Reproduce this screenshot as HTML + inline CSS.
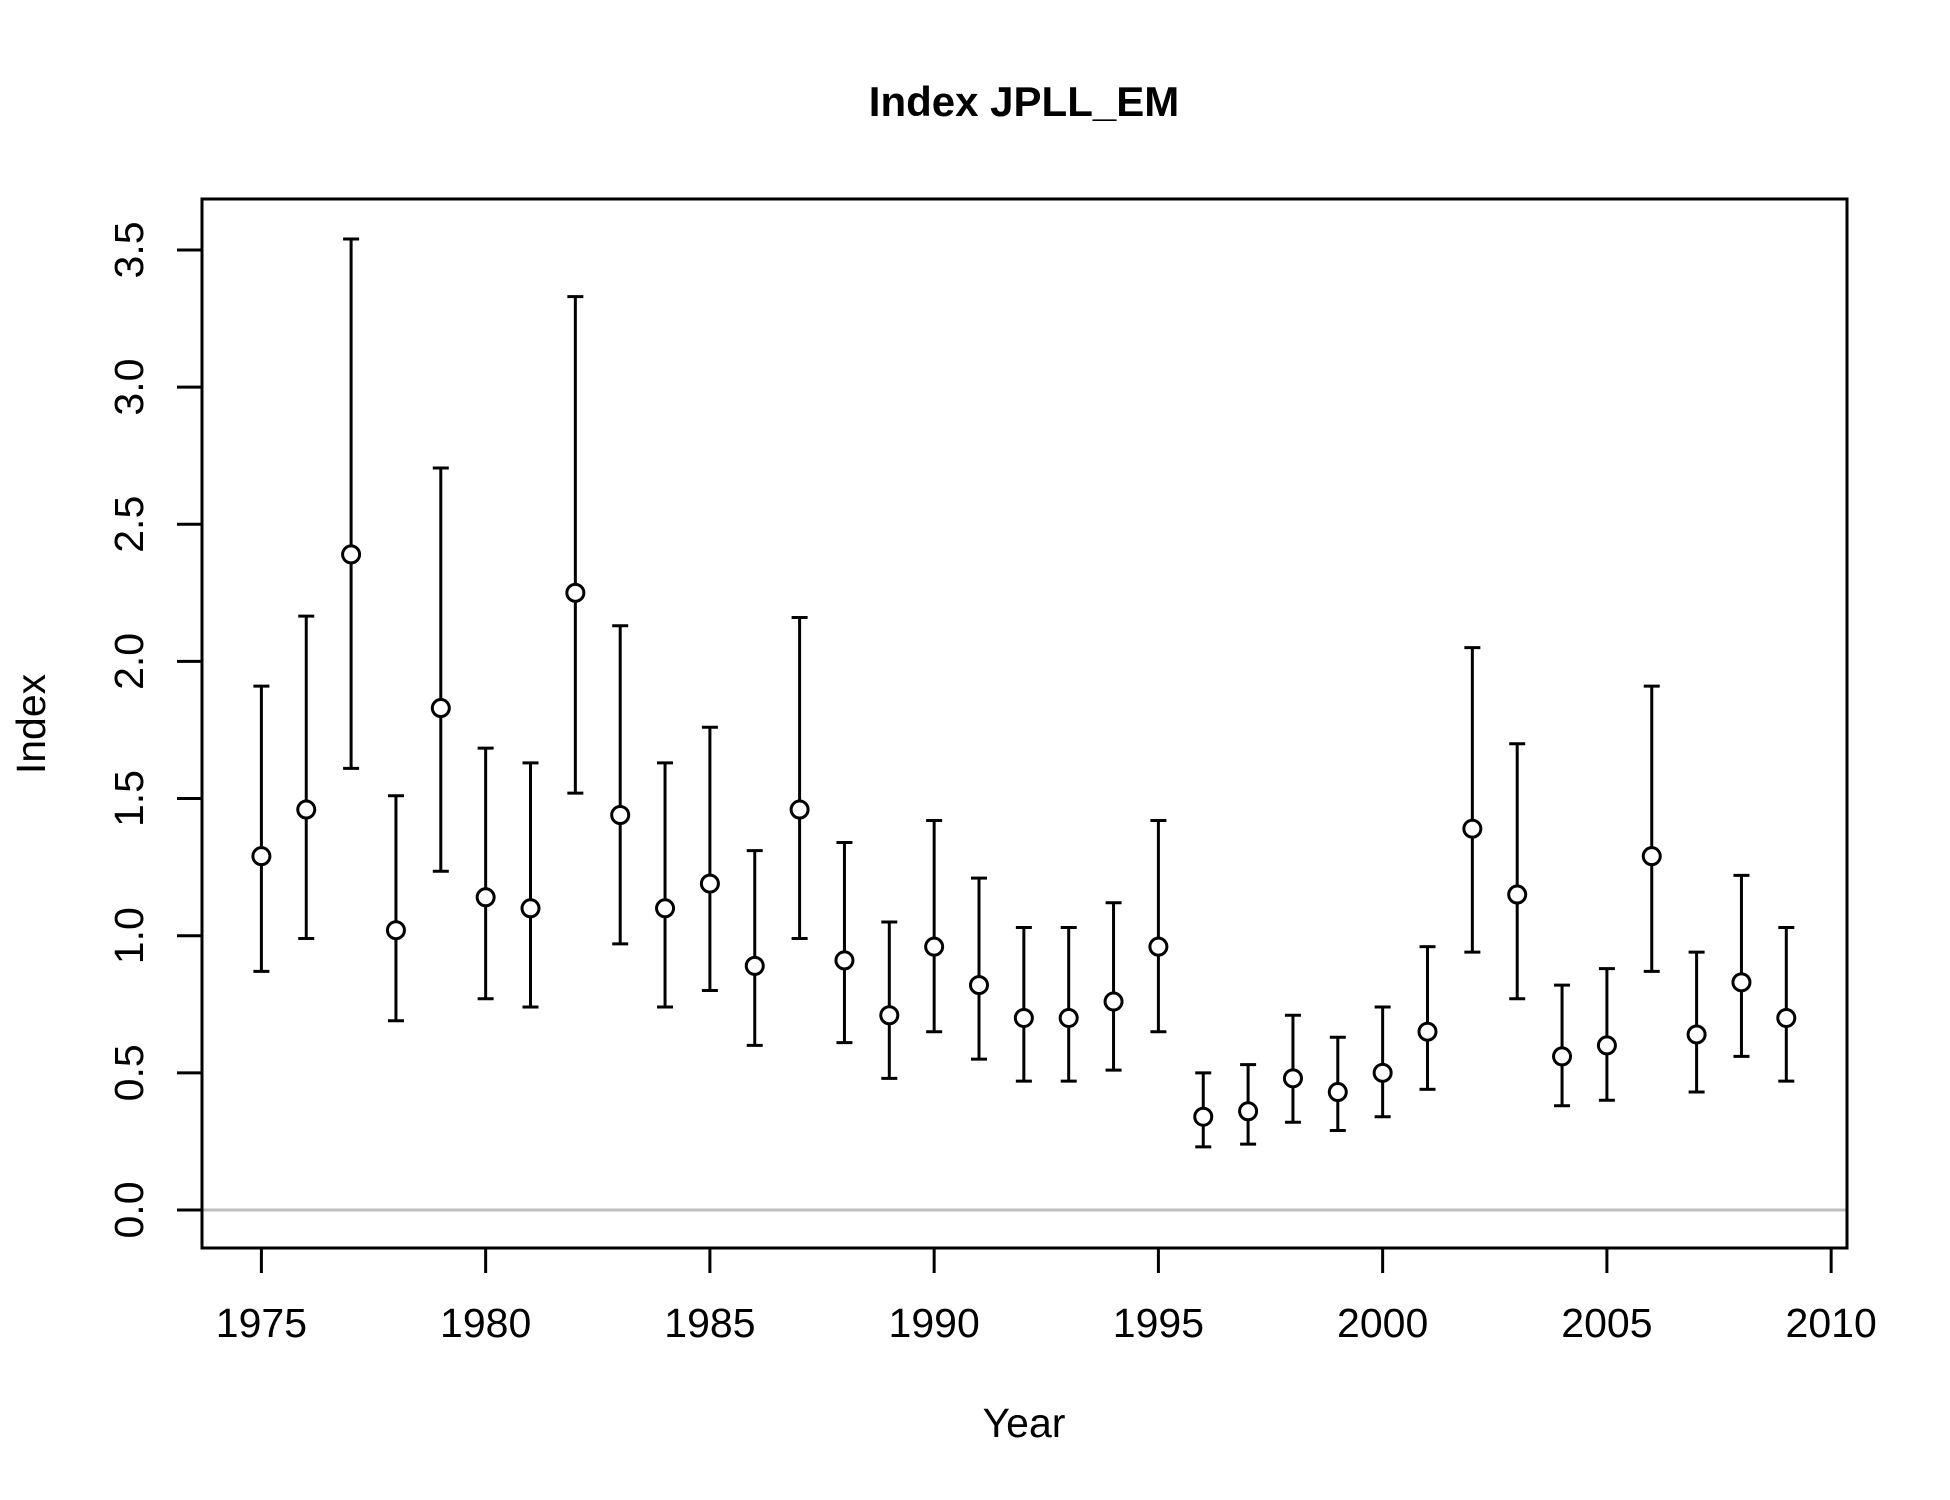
<!DOCTYPE html>
<html><head><meta charset="utf-8"><style>body{margin:0;background:#fff}svg{display:block}text{font-family:"Liberation Sans",Arial,sans-serif}</style></head>
<body>
<svg id="chart" width="1950" height="1500" viewBox="0 0 1950 1500" xmlns="http://www.w3.org/2000/svg">
<text x="1024" y="116" text-anchor="middle" font-size="42" font-weight="bold">Index JPLL_EM</text>
<line x1="202" x2="1847" y1="1210" y2="1210" stroke="#bebebe" stroke-width="3"/>
<rect x="202" y="199" width="1645" height="1049" fill="none" stroke="#000" stroke-width="3"/>
<g id="axes"></g>
<g id="marks"></g>
<text x="1024" y="1437" text-anchor="middle" font-size="41">Year</text>
<text transform="translate(45,724) rotate(-90)" text-anchor="middle" font-size="41">Index</text>
</svg>
<script>
const years=[1975,1976,1977,1978,1979,1980,1981,1982,1983,1984,1985,1986,1987,1988,1989,1990,1991,1992,1993,1994,1995,1996,1997,1998,1999,2000,2001,2002,2003,2004,2005,2006,2007,2008,2009];
const values=[1.29,1.46,2.39,1.02,1.83,1.14,1.10,2.25,1.44,1.10,1.19,0.89,1.46,0.91,0.71,0.96,0.82,0.70,0.70,0.76,0.96,0.34,0.36,0.48,0.43,0.50,0.65,1.39,1.15,0.56,0.60,1.29,0.64,0.83,0.70];
const lower=[0.87,0.99,1.61,0.69,1.235,0.77,0.74,1.52,0.97,0.74,0.80,0.60,0.99,0.61,0.48,0.65,0.55,0.47,0.47,0.51,0.65,0.23,0.24,0.32,0.29,0.34,0.44,0.94,0.77,0.38,0.40,0.87,0.43,0.56,0.47];
const upper=[1.91,2.165,3.54,1.51,2.705,1.684,1.63,3.33,2.13,1.63,1.76,1.31,2.16,1.34,1.05,1.42,1.21,1.03,1.03,1.12,1.42,0.50,0.53,0.71,0.63,0.74,0.96,2.05,1.70,0.82,0.88,1.91,0.94,1.22,1.03];
const xTicks=[1975,1980,1985,1990,1995,2000,2005,2010];
const yTicks=[0,0.5,1,1.5,2,2.5,3,3.5];
const xs=y=>261.4+(y-1975)*44.85;
const ys=v=>1210-v*274.3;
const NS="http://www.w3.org/2000/svg";
function mk(t,a,p){const e=document.createElementNS(NS,t);for(const k in a)e.setAttribute(k,a[k]);p.appendChild(e);return e;}
const ax=document.getElementById('axes'),mg=document.getElementById('marks');
xTicks.forEach(t=>{
 const l=mk('line',{x1:xs(t),x2:xs(t),y1:1248,y2:1273,stroke:'#000','stroke-width':3},ax);
 
 
 const tx=mk('text',{x:xs(t),y:1337,'text-anchor':'middle','font-size':41},ax);tx.textContent=t;
 
 
});
yTicks.forEach(t=>{
 const l=mk('line',{x1:177,x2:202,y1:ys(t),y2:ys(t),stroke:'#000','stroke-width':3},ax);
 
 
 const tx=mk('text',{transform:`translate(143,${ys(t)}) rotate(-90)`,'text-anchor':'middle','font-size':41},ax);tx.textContent=t.toFixed(1);
 
 
});
years.forEach((y,i)=>{
 const x=xs(y);
 const g=mk('g',{},mg);
 
 
 mk('line',{x1:x,x2:x,y1:ys(lower[i]),y2:ys(upper[i]),stroke:'#000','stroke-width':3},g);
 mk('line',{x1:x-8,x2:x+8,y1:ys(lower[i]),y2:ys(lower[i]),stroke:'#000','stroke-width':3},g);
 mk('line',{x1:x-8,x2:x+8,y1:ys(upper[i]),y2:ys(upper[i]),stroke:'#000','stroke-width':3},g);
 const c=mk('circle',{cx:x,cy:ys(values[i]),r:8.5,fill:'#fff',stroke:'#000','stroke-width':3},g);
 
 
});
</script>
</body></html>
